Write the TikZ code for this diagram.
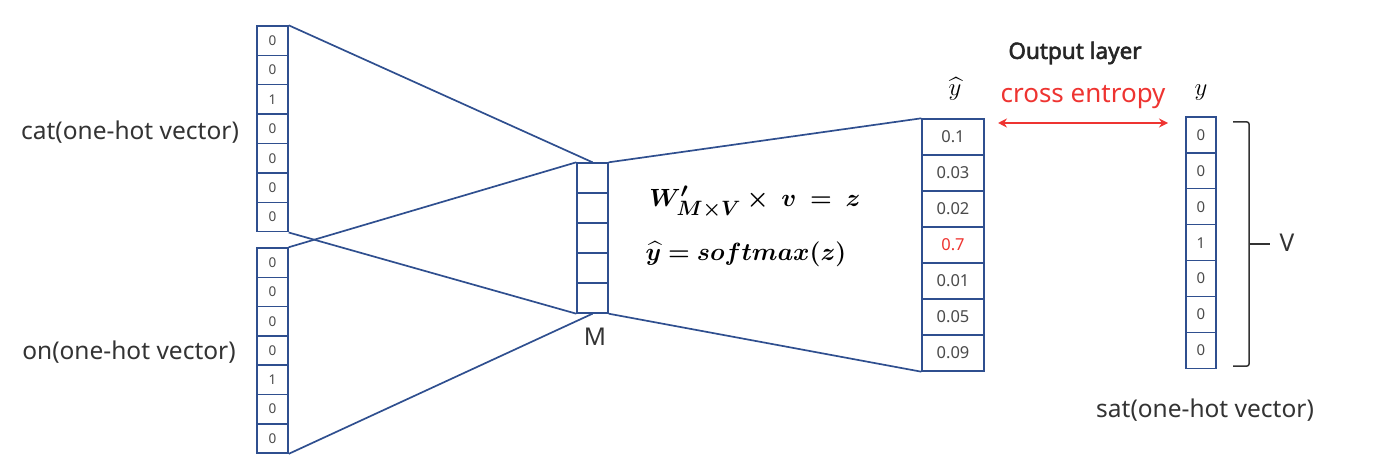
\documentclass[tikz,border=0pt]{standalone}
\usepackage{amsmath}
\usepackage{bm}
\usepackage[no-math]{fontspec}
\setmainfont{Noto Sans}[AutoFakeBold=2.5]
\usetikzlibrary{arrows.meta}
\definecolor{netblue}{HTML}{2F4F8F}
\definecolor{cellgrey}{HTML}{4A4A4A}
\definecolor{txtgrey}{HTML}{333333}
\definecolor{xred}{HTML}{EE3431}
\tikzset{
    cell/.style={rectangle, draw=netblue, line width=1.4pt, inner sep=0pt,
        text=cellgrey},
    onehot/.style={cell, minimum width=31, minimum height=29.4,
        font=\fontsize{13.5}{13.5}\selectfont},
    hidden/.style={cell, minimum width=31, minimum height=30},
    outcell/.style={cell, minimum width=62, minimum height=36,
        font=\fontsize{16.5}{16.5}\selectfont},
    target/.style={cell, minimum width=30, minimum height=35.9,
        font=\fontsize{15}{15}\selectfont},
    conn/.style={draw=netblue, line width=1.7pt},
    lbl/.style={font=\fontsize{24.5}{26}\selectfont, text=txtgrey},
    formula/.style={font=\fontsize{28}{30}\selectfont, text=black,
        inner sep=0pt},
    xarrow/.style={{Stealth[length=9pt,width=9pt]}-{Stealth[length=9pt,width=9pt]},
        line width=1.6pt, color=xred},
    bracket/.style={draw=txtgrey, line width=1.5pt, rounded corners=2pt},
}
\begin{document}
\begin{tikzpicture}[x=1pt, y=-1pt]
\useasboundingbox (0,0) rectangle (1380,462);

% ================================================================
%  INPUT ONE-HOT VECTORS
% ================================================================

\foreach \v [count=\i] in {0,0,1,0,0,0,0}
    \node[onehot] (cat\i) at (272.5, {26+29.4*(\i-0.5)}) {\v};
\foreach \v [count=\i] in {0,0,0,0,1,0,0}
    \node[onehot] (on\i) at (272.5, {248+29.3*(\i-0.5)}) {\v};

\node[lbl] (catlbl) at (130, 132) {cat(one-hot vector)};
\node[lbl] (onlbl)  at (129, 352) {on(one-hot vector)};

% ================================================================
%  HIDDEN LAYER
% ================================================================

\foreach \i in {1,...,5}
    \node[hidden] (m\i) at (592.5, {163+30*(\i-0.5)}) {};
\node[lbl] (mlbl) at (595, 337) {M};

\draw[conn] (cat1.north east) -- (m1.north);
\draw[conn] (on1.north east) -- (m1.north west);
\draw[conn] (cat7.south east) -- (m5.south west);
\draw[conn] (on7.south east) -- (m5.south);

\node[formula] (eqz)  at (755, 202)
    {$\bm{W'_{M\times V}\times\; v\;=\;z}$};
\node[formula] (eqsm) at (746, 254)
    {$\bm{\widehat{y}=softmax(z)}$};

% ================================================================
%  OUTPUT LAYER
% ================================================================

\foreach \v/\c [count=\i] in {0.1/cellgrey, 0.03/cellgrey, 0.02/cellgrey,
        0.7/xred, 0.01/cellgrey, 0.05/cellgrey, 0.09/cellgrey}
    \node[outcell, text=\c] (yh\i) at (953, {119+36*(\i-0.5)}) {\v};

\draw[conn] (m1.north east) -- (yh1.north west);
\draw[conn] (m5.south east) -- (yh7.south west);

\node[formula, font=\fontsize{31}{32}\selectfont] (yhlbl) at (955, 89)
    {$\widehat{y}$};
\node[font=\bfseries\fontsize{22.5}{24}\selectfont, text=black!85]
    (outlbl) at (1075, 53) {Output layer};

% ================================================================
%  TARGET VECTOR
% ================================================================

\foreach \v [count=\i] in {0,0,0,1,0,0,0}
    \node[target] (y\i) at (1201, {117+35.9*(\i-0.5)}) {\v};

\node[formula, font=\fontsize{31}{32}\selectfont] (ylbl) at (1201, 93) {$y$};
\node[lbl] (satlbl) at (1205, 410) {sat(one-hot vector)};

% cross entropy
\coordinate (celeft)  at (998, 123);
\coordinate (ceright) at (1168, 123);
\draw[xarrow] (celeft) -- (ceright);
\node[lbl, text=xred, font=\fontsize{26}{28}\selectfont]
    (celbl) at (1083, 97) {cross entropy};

% size bracket
\coordinate (brtop) at (1233, 122);
\coordinate (brmid) at (1249, 244);
\coordinate (brbot) at (1233, 366);
\draw[bracket] (brtop) -| (brmid) |- (brbot);
\draw[bracket] (brmid) -- ++(21, 0);
\node[lbl] (vlbl) at (1287, 243) {V};

\end{tikzpicture}
\end{document}
